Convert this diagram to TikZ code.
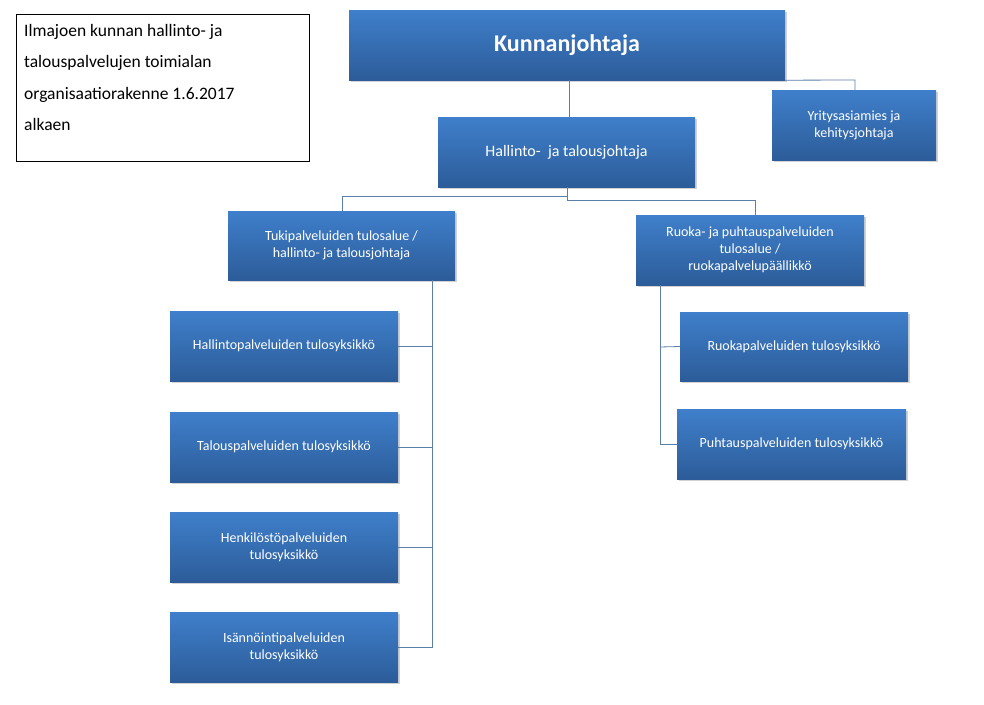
\documentclass[tikz,border=0pt]{standalone}
\usepackage{fontspec}
\setmainfont{Carlito}
\usetikzlibrary{shadows}
\definecolor{btop}{HTML}{3F7FCB}
\definecolor{bbot}{HTML}{2C5C99}
\definecolor{lnk}{HTML}{5B7FA6}
\tikzset{
 bx/.style={draw=none,top color=btop,bottom color=bbot,text=white,align=center,inner sep=0pt,
   drop shadow={shadow xshift=1.5pt,shadow yshift=-1.5pt,opacity=0.35},font=\fontsize{14}{17}\selectfont},
 ln/.style={draw=lnk,line width=0.8pt}
}
\newcommand{\bxn}[6]{\node[bx,minimum width=#3pt-#2pt,minimum height=#5pt-#4pt,#6] (#1) at ({(#2+#3)/2*1pt},{-(#4+#5)/2*1pt})}
\begin{document}
\begin{tikzpicture}[x=1pt,y=-1pt]
\useasboundingbox[fill=white] (0,0) rectangle (984,704);
\node[draw=black,line width=0.7pt,minimum width=293pt,minimum height=147pt,inner sep=0pt] (tb) at (162.5,87.5) {};
\node[anchor=north west,align=left,font=\fontsize{17.5}{31.5}\selectfont,inner sep=0pt] (tt) at (24,24) {Ilmajoen kunnan hallinto- ja\\talouspalvelujen toimialan\\organisaatiorakenne 1.6.2017\\alkaen};
\bxn{k}{349}{785}{10}{80}{font=\fontsize{24}{28}\selectfont\bfseries}{Kunnanjohtaja};
\bxn{y}{772}{936}{90}{160}{}{Yritysasiamies ja\\kehitysjohtaja};
\bxn{h}{438}{695}{117}{187}{font=\fontsize{16}{19}\selectfont}{Hallinto-\ \ ja talousjohtaja};
\bxn{t}{228}{455}{211}{280}{}{Tukipalveluiden tulosalue /\\hallinto- ja talousjohtaja};
\bxn{r}{636}{864}{215}{285}{}{Ruoka- ja puhtauspalveluiden\\tulosalue /\\ruokapalvelupäällikkö};
\bxn{l1}{170}{398}{311}{381}{}{Hallintopalveluiden tulosyksikkö};
\bxn{l2}{170}{398}{412}{482}{}{Talouspalveluiden tulosyksikkö};
\bxn{l3}{170}{398}{512}{582}{}{Henkilöstöpalveluiden\\tulosyksikkö};
\bxn{l4}{170}{398}{612}{682}{}{Isännöintipalveluiden\\tulosyksikkö};
\bxn{r1}{680}{908}{312}{381}{}{Ruokapalveluiden tulosyksikkö};
\bxn{r2}{677}{906}{409}{479}{}{Puhtauspalveluiden tulosyksikkö};
\draw[ln] (569,80) -- (569,117);
\draw[ln] (k.south east) -- (855,80) -- (855,90);
\draw[ln] (567,187) -- (567,196) -- (342,196) -- (342,211);
\draw[ln] (567,187) -- (567,200) -- (755,200) -- (755,215);
\draw[ln] (432,280) -- (432,647) -- (l4.east);
\draw[ln] (432,346) -- (l1.east);
\draw[ln] (432,447) -- (l2.east);
\draw[ln] (432,547) -- (l3.east);
\draw[ln] (660,285) -- (660,444) -- (r2.west);
\draw[ln] (660,347) -- (r1.west);
\end{tikzpicture}
\end{document}
